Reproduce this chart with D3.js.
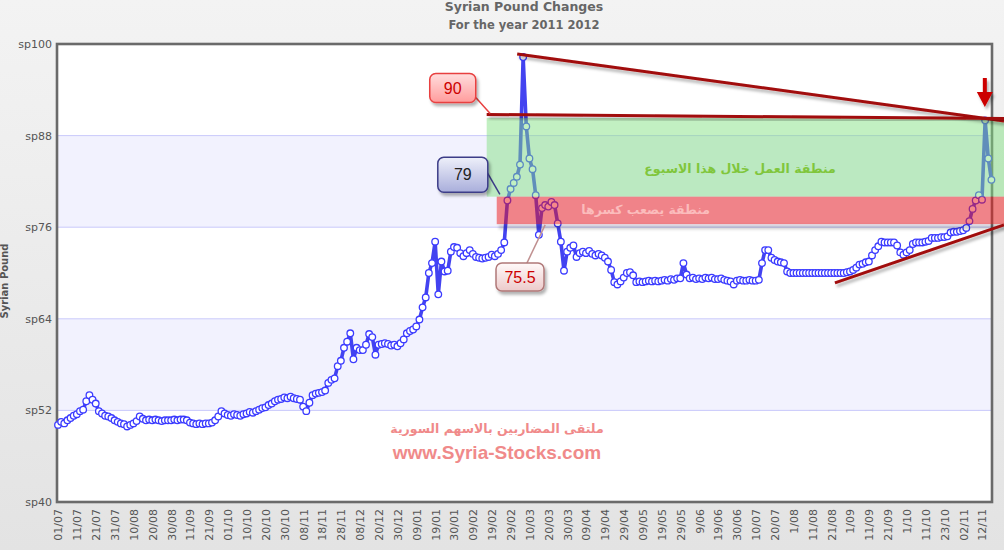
<!DOCTYPE html>
<html><head><meta charset="utf-8">
<script src="https://cdn.jsdelivr.net/npm/d3@7"></script>
<style>html,body{margin:0;padding:0;background:#eee;}svg{display:block}</style>
</head><body><svg id="c" width="1004" height="550"></svg>
<script>
// ---------------- data ----------------
const chartTitle = "Syrian Pound Changes";
const chartSubtitle = "For the year 2011 2012";
const yAxisTitle = "Syrian Pound";
const xLabels = ["01/07","11/07","21/07","31/07","10/08","20/08","30/08","11/09","21/09","01/10",
  "10/10","20/10","30/10","08/11","18/11","28/11","08/12","20/12","30/12","09/01",
  "19/01","30/01","09/02","19/02","29/02","10/03","20/03","30/03","09/04","19/04",
  "29/04","09/05","19/05","29/05","9/06","19/06","30/06","10/07","20/07","1/08",
  "11/08","21/08","1/09","11/09","21/09","1/10","11/10","23/10","02/11","12/11"];
const pointsPerLabel = 6;
const values = [
  50.1,50.5,50.3,50.7,51.0,51.3,  51.5,51.9,52.1,53.2,54.0,53.4,  52.9,51.9,51.6,51.3,51.2,51.0,
  50.7,50.5,50.3,50.2,49.9,50.1,  50.3,50.6,51.2,50.9,50.7,50.8,  50.7,50.8,50.7,50.6,50.7,50.7,
  50.7,50.8,50.7,50.8,50.8,50.7,  50.4,50.3,50.2,50.3,50.2,50.3,  50.3,50.4,50.7,51.2,51.9,51.6,
  51.4,51.3,51.5,51.4,51.3,51.5,  51.6,51.8,51.7,51.9,52.1,52.3,  52.4,52.7,52.9,53.2,53.4,53.5,
  53.7,53.6,53.8,53.6,53.5,53.4,  52.5,51.9,53.0,54.0,54.2,54.3,  54.4,54.6,55.6,56.0,56.2,57.8,
  58.5,60.2,61.0,62.1,58.7,60.2,  59.9,59.9,60.6,62.0,61.6,59.3,  60.6,60.7,60.8,60.7,60.5,60.6,
  60.4,60.8,61.3,62.1,62.4,62.6,  63.0,63.9,65.5,66.8,70.0,71.3,  74.1,67.2,71.5,70.2,70.3,72.8,
  73.4,73.3,72.6,72.2,72.6,73.0,  72.5,72.1,72.0,71.9,72.0,72.1,  72.4,72.2,72.5,73.0,74.0,79.5,
  81.0,81.8,82.6,84.2,98.3,89.2,  85.0,83.6,80.2,75.0,78.5,78.9,  78.7,79.3,78.9,76.5,74.1,70.3,
  72.8,73.3,73.6,72.1,72.6,72.8,  72.6,72.9,72.5,72.3,72.5,72.3,  72.0,71.5,70.4,68.8,68.5,68.9,
  69.4,70.0,70.1,69.7,68.8,68.9,  68.8,68.9,69.0,68.9,69.0,68.9,  69.0,69.1,69.0,69.2,69.1,69.3,
  69.3,71.3,69.8,69.3,69.4,69.2,  69.3,69.2,69.4,69.3,69.4,69.2,  69.2,69.3,69.1,69.0,68.9,68.5,
  69.0,69.1,69.0,69.0,69.1,69.0,  69.0,69.1,71.3,73.0,73.0,72.0,  71.7,71.5,71.4,71.3,70.2,70.0,
  70.0,70.0,70.0,70.0,70.0,70.0,  70.0,70.0,70.0,70.0,70.0,70.0,  70.0,70.0,70.0,70.0,70.0,70.1,
  70.2,70.4,70.7,71.1,71.2,71.4,  71.5,72.3,73.0,73.5,74.1,74.0,  74.0,74.0,74.0,73.6,72.7,72.4,
  72.7,73.0,73.8,74.0,74.0,74.0,  74.1,74.2,74.6,74.6,74.6,74.7,  74.7,74.8,75.3,75.4,75.4,75.5,
  75.6,75.9,76.8,78.4,79.5,80.2,  79.6,90.0,85.0,82.2
];
const yTicks = [40,52,64,76,88,100];
const shadedBands = [[52,64],[76,88]];
const levelLabels = ["90","79","75.5"];
const zoneTexts = ["منطقة العمل خلال هذا الاسبوع","منطقة يصعب كسرها"];
const footerArabic = "ملتقى المضاربين بالاسهم السورية";
const footerUrl = "www.Syria-Stocks.com";

// ---------------- chart ----------------
(function(){
const W = 1004, H = 550;
const svg = d3.select("#c");
const defs = svg.append("defs");
const bg = defs.append("linearGradient").attr("id","bg").attr("x1",0).attr("y1",0).attr("x2",0).attr("y2",1);
bg.append("stop").attr("offset","0%").attr("stop-color","#f3f3f3");
bg.append("stop").attr("offset","100%").attr("stop-color","#e3e3e3");
const sh = defs.append("filter").attr("id","shadow").attr("x","-20%").attr("y","-20%").attr("width","140%").attr("height","160%");
sh.append("feDropShadow").attr("dx",2).attr("dy",3).attr("stdDeviation",1.6).attr("flood-color","#000").attr("flood-opacity",0.3);
const blur = defs.append("filter").attr("id","blur").attr("x","-5%").attr("y","-100%").attr("width","110%").attr("height","300%");
blur.append("feGaussianBlur").attr("stdDeviation",1.5);
function grad(id, c1, c2){
  const g = defs.append("linearGradient").attr("id",id).attr("x1",0).attr("y1",0).attr("x2",0).attr("y2",1);
  g.append("stop").attr("offset","0%").attr("stop-color",c1);
  g.append("stop").attr("offset","100%").attr("stop-color",c2);
}
grad("g90","#ffdede","#ff9c9c");
grad("g79","#eef0fa","#a9aedb");
grad("g755","#fffafa","#eccaca");

svg.append("rect").attr("width",W).attr("height",H).attr("fill","url(#bg)");

const pL = 57, pR = 992, pT = 44, pB = 502;
const nLast = (xLabels.length-1)*pointsPerLabel;
const x = d3.scaleLinear().domain([0, nLast]).range([58, 982]);
const y = d3.scaleLinear().domain([40,100]).range([pB, pT]);

// plot background
svg.append("rect").attr("x",pL).attr("y",pT).attr("width",pR-pL).attr("height",pB-pT).attr("fill","#fff");
svg.selectAll("rect.band").data(shadedBands).join("rect").attr("class","band")
  .attr("x",pL).attr("width",pR-pL)
  .attr("y",d=>y(d[1])).attr("height",d=>y(d[0])-y(d[1])).attr("fill","#f2f2fe");
svg.selectAll("line.grid").data(yTicks.slice(1,-1)).join("line").attr("class","grid")
  .attr("x1",pL).attr("x2",pR).attr("y1",d=>y(d)).attr("y2",d=>y(d))
  .attr("stroke","#c9c9fb").attr("stroke-width",1);
svg.append("rect").attr("x",pL).attr("y",pT).attr("width",pR-pL).attr("height",pB-pT)
  .attr("fill","none").attr("stroke","#6a6a6a").attr("stroke-width",2.6);

// axes
const yAxis = d3.axisLeft(y).tickValues(yTicks).tickFormat(d=>"sp"+d).tickSize(0).tickPadding(5);
const ya = svg.append("g").attr("transform",`translate(${pL},0)`).call(yAxis);
ya.select(".domain").remove();
ya.selectAll("text").attr("font-family","DejaVu Sans, Verdana, sans-serif").attr("font-size",11).attr("fill","#555");

const xAxis = d3.axisBottom(x).tickValues(xLabels.map((d,i)=>i*pointsPerLabel))
  .tickFormat((d,i)=>xLabels[i]).tickSize(0);
const xa = svg.append("g").attr("transform",`translate(0,${pB})`).call(xAxis);
xa.select(".domain").remove();
xa.selectAll("text").attr("font-family","DejaVu Sans, Verdana, sans-serif").attr("font-size",11).attr("fill","#555")
  .attr("text-anchor","end").attr("transform","rotate(-90)").attr("x",-7).attr("y",0).attr("dy","0.35em");

// titles
svg.append("text").attr("x",524).attr("y",11).attr("text-anchor","middle")
  .attr("font-family","DejaVu Sans, Verdana, sans-serif").attr("font-weight","bold").attr("font-size",12.5)
  .attr("fill","#666").text(chartTitle);
svg.append("text").attr("x",524).attr("y",29).attr("text-anchor","middle")
  .attr("font-family","DejaVu Sans, Verdana, sans-serif").attr("font-weight","bold").attr("font-size",11.5)
  .attr("fill","#666").text(chartSubtitle);
svg.append("text").attr("transform","translate(8,281) rotate(-90)").attr("text-anchor","middle")
  .attr("font-family","DejaVu Sans, Verdana, sans-serif").attr("font-weight","bold").attr("font-size",10)
  .attr("fill","#555").text(yAxisTitle);

// series
const pts = values.map((v,i)=>({i, v}));
svg.append("path").datum(pts)
  .attr("d", d3.line().x(d=>x(d.i)).y(d=>y(d.v)))
  .attr("fill","none").attr("stroke","#4343f0").attr("stroke-width",3.6).attr("stroke-linejoin","round");
svg.selectAll("circle.pt").data(pts).join("circle").attr("class","pt")
  .attr("cx",d=>x(d.i)).attr("cy",d=>y(d.v)).attr("r",3.3)
  .attr("fill","#fff").attr("stroke","#3b3bff").attr("stroke-width",1.3);

// footer texts
svg.append("text").attr("x",497).attr("y",433).attr("text-anchor","middle")
  .attr("font-family","DejaVu Sans, sans-serif").attr("font-weight","bold").attr("font-size",12.5)
  .attr("fill","#f08a8a").text(footerArabic);
svg.append("text").attr("x",497).attr("y",459).attr("text-anchor","middle")
  .attr("font-family","Liberation Sans, Arial, sans-serif").attr("font-weight","bold").attr("font-size",19)
  .attr("fill","#f08a8a").text(footerUrl);

// ---------------- annotations ----------------
const ann = svg.append("g");
const ex = 301; // right end (page edge) in index units
ann.append("rect").attr("x",x(139.6)+2).attr("y",y(76.4)+1).attr("width",x(ex)-x(139.6)).attr("height",4)
  .attr("fill","#000").attr("fill-opacity",0.2).attr("filter","url(#blur)");
ann.append("rect").attr("x",x(136.4)).attr("y",y(90.3)).attr("width",x(ex)-x(136.4)).attr("height",y(80.0)-y(90.3))
  .attr("fill","#7fdf7f").attr("fill-opacity",0.48);
ann.append("rect").attr("x",x(139.6)).attr("y",y(80.0)).attr("width",x(ex)-x(139.6)).attr("height",y(76.4)-y(80.0))
  .attr("fill","#ee1414").attr("fill-opacity",0.5);
ann.append("text").attr("x",x(217)).attr("y",y(83.1)).attr("text-anchor","middle")
  .attr("font-family","DejaVu Sans, sans-serif").attr("font-weight","bold").attr("font-size",12.5)
  .attr("fill","#80c63c").text(zoneTexts[0]);
ann.append("text").attr("x",x(187)).attr("y",y(77.7)).attr("text-anchor","middle")
  .attr("font-family","DejaVu Sans, sans-serif").attr("font-weight","bold").attr("font-size",12.5)
  .attr("fill","#fbbcbc").text(zoneTexts[1]);

const lines = [
  [[146.1,98.7],[ex,89.9]],
  [[136.4,90.77],[ex,90.24]],
  [[138.4,80.0],[ex,80.0]],
  [[140.6,76.36],[ex,76.36]],
  [[247.2,68.7],[ex,76.3]]
];
ann.selectAll("line.tl").data(lines).join("line").attr("class","tl")
  .attr("x1",d=>x(d[0][0])).attr("y1",d=>y(d[0][1])).attr("x2",d=>x(d[1][0])).attr("y2",d=>y(d[1][1]))
  .attr("stroke","#a10a0a").attr("stroke-width",3).attr("filter","url(#shadow)");

const callouts = [
  {t:levelLabels[0], cx:125.6, cv:94.24, w:46, h:29, fill:"url(#g90)", stroke:"#e84040", tc:"#cc0000", from:[132.5,93.2], to:[137.5,90.9], lc:"#e84040"},
  {t:levelLabels[1], cx:128.8, cv:82.88, w:50, h:35, fill:"url(#g79)", stroke:"#3c3c88", tc:"#222", from:[136.5,83.2], to:[140.6,80.3], lc:"#3c3c88"},
  {t:levelLabels[2], cx:147.0, cv:69.48, w:48, h:28, fill:"url(#g755)", stroke:"#b07878", tc:"#cc0000", from:[149.2,71.3], to:[155,76.3], lc:"#c09090"}
];
callouts.forEach(c=>{
  ann.append("line").attr("x1",x(c.from[0])).attr("y1",y(c.from[1])).attr("x2",x(c.to[0])).attr("y2",y(c.to[1]))
    .attr("stroke",c.lc).attr("stroke-width",1.5);
  ann.append("rect").attr("x",x(c.cx)-c.w/2).attr("y",y(c.cv)-c.h/2).attr("width",c.w).attr("height",c.h)
    .attr("rx",6).attr("fill",c.fill).attr("stroke",c.stroke).attr("stroke-width",1.5).attr("filter","url(#shadow)");
  ann.append("text").attr("x",x(c.cx)).attr("y",y(c.cv)).attr("dy","0.36em").attr("text-anchor","middle")
    .attr("font-family","Liberation Sans, Arial, sans-serif").attr("font-size",16).attr("fill",c.tc).text(c.t);
});

const ax = x(294.9), ay = y(91.75);
ann.append("path")
  .attr("d",`M${ax-2},${ay-29} L${ax+2},${ay-29} L${ax+2},${ay-15} L${ax+8},${ay-15} L${ax},${ay} L${ax-8},${ay-15} L${ax-2},${ay-15} Z`)
  .attr("fill","#cc0000").attr("filter","url(#shadow)");
})();
</script></body></html>
